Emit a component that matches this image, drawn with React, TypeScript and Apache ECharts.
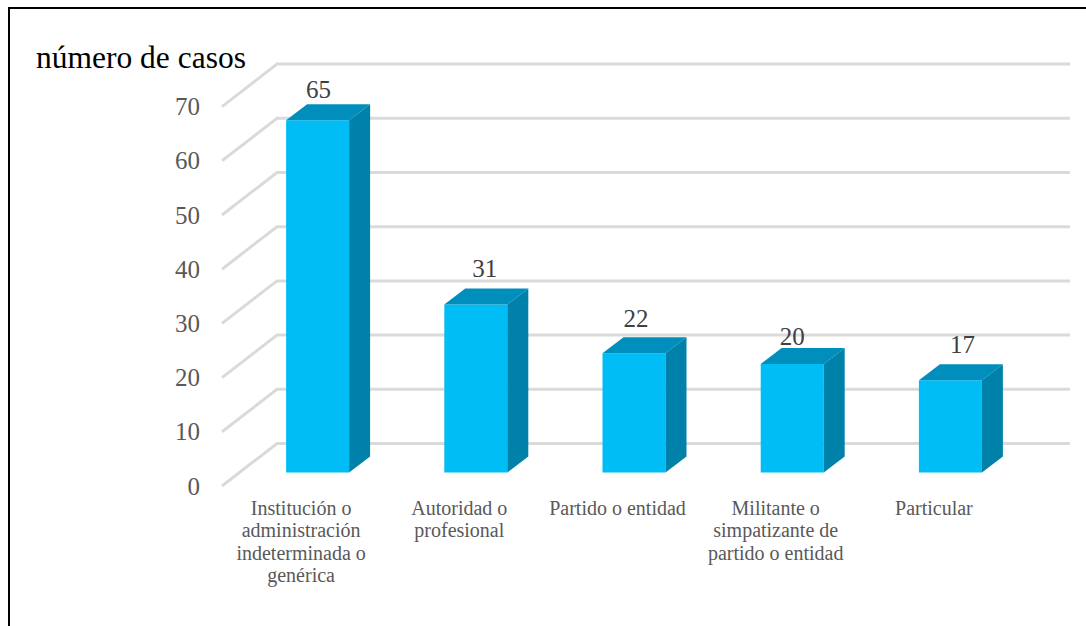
import React, { useEffect, useRef } from "react";
import * as echarts from "echarts";

const categories = [
  "Institución o\nadministración\nindeterminada o\ngenérica",
  "Autoridad o\nprofesional",
  "Partido o entidad",
  "Militante o\nsimpatizante de\npartido o entidad",
  "Particular",
];
const caseCounts = [65, 31, 22, 20, 17];
const gridValues = [0, 10, 20, 30, 40, 50, 60, 70];
const axisTitle = "número de casos";

// Label placement nudges (the reference places its labels by hand)
const labelNudgeX = [1, 9, 2, 0, 12];
const labelNudgeY = [0, -5, -4, 3, -5];

const SERIF = "'Liberation Serif', serif";
const FRONT = "#00BDF6";
const TOP = "#008FBC";
const SIDE = "#0081AA";
const BAR_W = 63;
const BAR_SHIFT_X = 16.5;
const BAR_SHIFT_Y = -13.5;
const DEPTH_X = 21;
const DEPTH_Y = -16;
const WALL_X = 55;
const WALL_Y = -42.5;
const WALL_END = 1070;

export default function App() {
  const ref = useRef<HTMLDivElement>(null);
  useEffect(() => {
    const chart = echarts.init(ref.current!, undefined, { renderer: "svg" });
    chart.setOption({
      animation: false,
      backgroundColor: "#ffffff",
      title: {
        text: axisTitle,
        left: 36,
        top: 41,
        padding: 0,
        textStyle: { fontFamily: SERIF, fontSize: 31.5, fontWeight: "normal", color: "#000000" },
      },
      grid: { left: 222, width: 791, top: 106.6, bottom: 140, containLabel: false },
      xAxis: {
        type: "category",
        data: categories,
        axisLine: { show: false },
        axisTick: { show: false },
        axisLabel: {
          interval: 0,
          margin: 11,
          fontFamily: SERIF,
          fontSize: 20,
          lineHeight: 22.3,
          color: "#595959",
          align: "center",
          verticalAlign: "top",
        },
      },
      yAxis: {
        type: "value",
        min: 0,
        max: 70,
        interval: 10,
        axisLine: { show: false },
        axisTick: { show: false },
        splitLine: { show: false },
        axisLabel: { margin: 22, fontFamily: SERIF, fontSize: 25, color: "#595959" },
      },
      graphic: [
        { type: "line", silent: true, shape: { x1: 9, y1: 8, x2: 1086, y2: 8 }, style: { stroke: "#000000", lineWidth: 2 } },
        { type: "line", silent: true, shape: { x1: 9, y1: 7, x2: 9, y2: 626 }, style: { stroke: "#000000", lineWidth: 2 } },
      ],
      series: [
        {
          type: "custom",
          coordinateSystem: "cartesian2d",
          silent: true,
          clip: false,
          z: 1,
          data: gridValues.map((v) => [0, v]),
          encode: { x: 0, y: 1 },
          renderItem: (params: any, api: any) => {
            const y = api.coord([0, api.value(1)])[1];
            const x0 = params.coordSys.x;
            const style = { stroke: "#DADADA", lineWidth: 3, fill: "none" };
            return {
              type: "polyline",
              shape: {
                points: [
                  [x0, y],
                  [x0 + WALL_X, y + WALL_Y],
                  [WALL_END, y + WALL_Y],
                ],
              },
              style,
            };
          },
        },
        {
          type: "custom",
          coordinateSystem: "cartesian2d",
          silent: true,
          clip: false,
          z: 2,
          data: caseCounts.map((v, i) => [i, v]),
          encode: { x: 0, y: 1 },
          renderItem: (params: any, api: any) => {
            const i = api.value(0);
            const v = api.value(1);
            const top = api.coord([i, v]);
            const base = api.coord([i, 0]);
            const l = top[0] + BAR_SHIFT_X - BAR_W / 2;
            const r = l + BAR_W;
            const t = top[1] + BAR_SHIFT_Y;
            const b = base[1] + BAR_SHIFT_Y;
            return {
              type: "group",
              children: [
                {
                  type: "rect",
                  shape: { x: l, y: t, width: BAR_W, height: b - t },
                  style: { fill: FRONT },
                },
                {
                  type: "polygon",
                  shape: { points: [[l, t], [l + DEPTH_X, t + DEPTH_Y], [r + DEPTH_X, t + DEPTH_Y], [r, t]] },
                  style: { fill: TOP },
                },
                {
                  type: "polygon",
                  shape: { points: [[r, t], [r + DEPTH_X, t + DEPTH_Y], [r + DEPTH_X, b + DEPTH_Y], [r, b]] },
                  style: { fill: SIDE },
                },
                {
                  type: "text",
                  style: {
                    text: String(v),
                    x: l + BAR_W / 2 + labelNudgeX[i],
                    y: t - 31 + labelNudgeY[i],
                    align: "center",
                    verticalAlign: "middle",
                    fontFamily: SERIF,
                    fontSize: 25,
                    fill: "#404040",
                  },
                },
              ],
            };
          },
        },
      ],
    });
    return () => chart.dispose();
  }, []);
  return (
    <div
      ref={ref}
      style={{ position: "fixed", left: 0, top: 0, width: 1086, height: 626 }}
    />
  );
}
